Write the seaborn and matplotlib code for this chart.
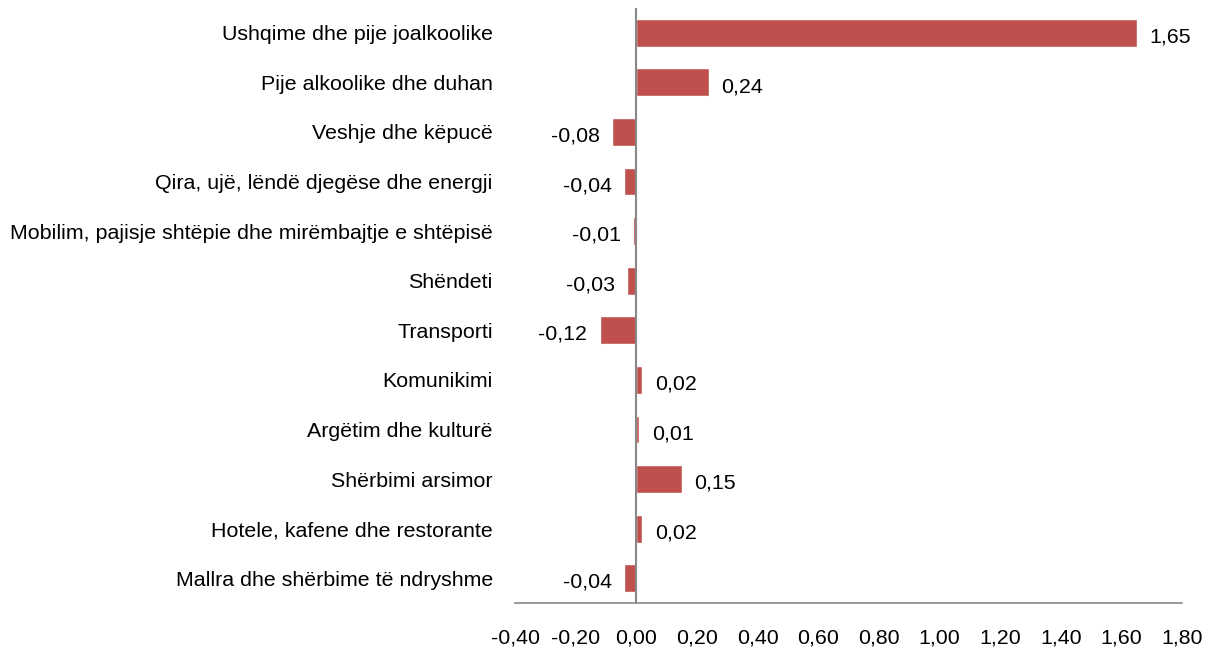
import matplotlib
matplotlib.use("Agg")
import matplotlib.pyplot as plt
import seaborn as sns
import pandas as pd

categories = [
    "Ushqime dhe pije joalkoolike",
    "Pije alkoolike dhe duhan",
    "Veshje dhe këpucë",
    "Qira, ujë, lëndë djegëse dhe energji",
    "Mobilim, pajisje shtëpie dhe mirëmbajtje e shtëpisë",
    "Shëndeti",
    "Transporti",
    "Komunikimi",
    "Argëtim dhe kulturë",
    "Shërbimi arsimor",
    "Hotele, kafene dhe restorante",
    "Mallra dhe shërbime të ndryshme",
]
values = [1.65, 0.24, -0.08, -0.04, -0.01, -0.03, -0.12, 0.02, 0.01, 0.15, 0.02, -0.04]
xticks = [-0.40, -0.20, 0.00, 0.20, 0.40, 0.60, 0.80, 1.00, 1.20, 1.40, 1.60, 1.80]

sns.set_style("white")
plt.rcParams["font.family"] = ["Liberation Sans", "DejaVu Sans"]
plt.rcParams["text.color"] = "black"
plt.rcParams["xtick.color"] = "black"
plt.rcParams["ytick.color"] = "black"

df = pd.DataFrame({"cat": categories, "val": values})

FS = 15.4

fig = plt.figure(figsize=(12.06, 6.53), dpi=100)
ax = fig.add_axes([515 / 1206, 1 - 603 / 653, (1182 - 515) / 1206, (603 - 8) / 653])

sns.barplot(data=df, y="cat", x="val", orient="h", color="#C0504D",
            saturation=1, width=0.56, ax=ax)

ax.set_xlim(-0.4, 1.8)
ax.set_ylim(11.5, -0.5)
ax.set_xticks(xticks)
ax.set_xticklabels([f"{t:.2f}".replace(".", ",") for t in xticks], fontsize=FS)
ax.tick_params(axis="x", length=0, pad=18)
ax.tick_params(axis="y", length=0, pad=16, labelsize=FS)
ax.set_xlabel("")
ax.set_ylabel("")

for s in ["top", "right", "left"]:
    ax.spines[s].set_visible(False)
ax.spines["bottom"].set_color("#888888")
ax.spines["bottom"].set_linewidth(1.2)
ax.axvline(0, color="#888888", lw=1.5, zorder=3)

for i, v in enumerate(values):
    lbl = f"{v:.2f}".replace(".", ",")
    if v >= 0:
        ax.annotate(lbl, (v, i), xytext=(9, -3), textcoords="offset points",
                    ha="left", va="center", fontsize=FS)
    else:
        ax.annotate(lbl, (v, i), xytext=(-9, -3), textcoords="offset points",
                    ha="right", va="center", fontsize=FS)

fig.savefig("out.png", dpi=100)
